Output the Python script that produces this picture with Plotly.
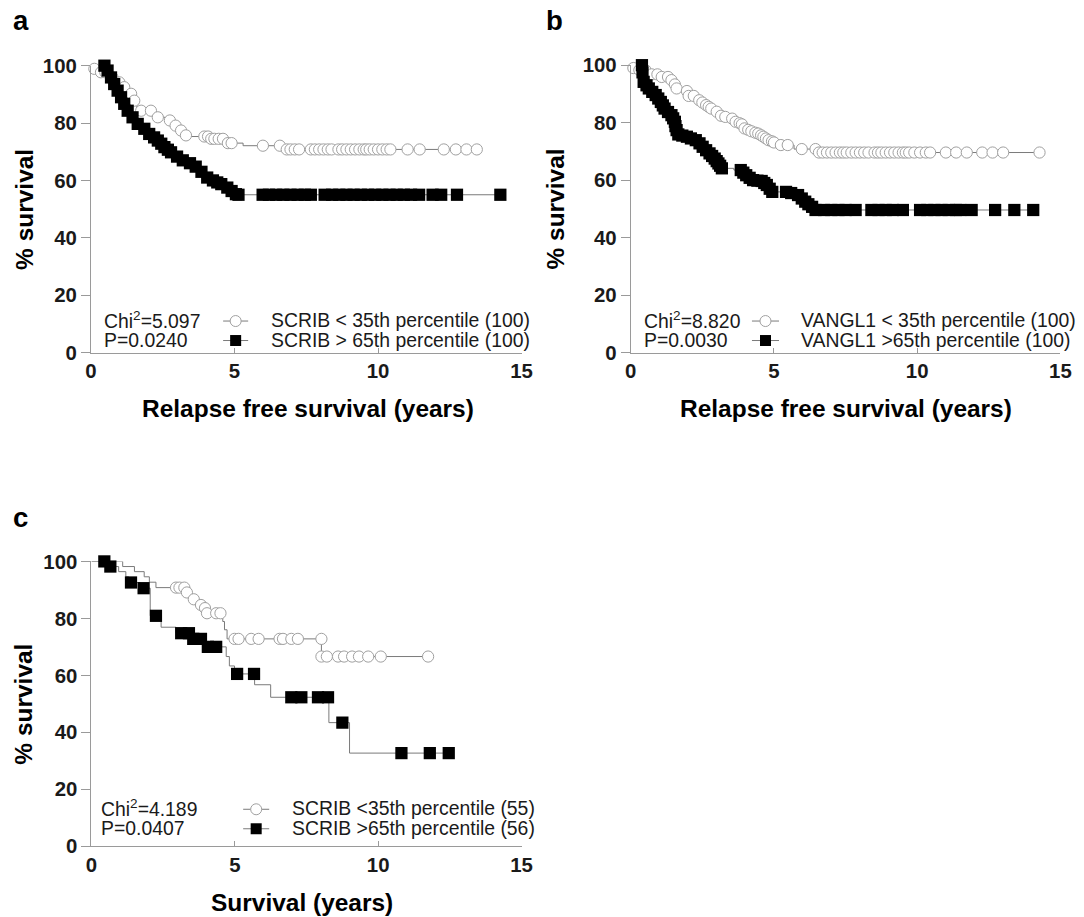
import plotly.graph_objects as go

# figure size (the page adds its own margin); an empirical page->picture calibration is applied below
FW, FH = 1100, 935
SX, TX = 0.983, 13.2   # picture_x = SX * figure_x + TX
SY, TY = 0.977, 18.8   # picture_y = SY * figure_y + TY
FS = 1 / 0.98          # size compensation for the slight downscale

# ---------------- data (years, % survival) ----------------
# Panel a: SCRIB, relapse free survival
A_LO_KM_T = [0, 0.08, 0.3, 0.65, 0.9, 1.1, 1.3, 1.45, 1.6, 2.2, 2.6, 2.9, 3.05, 3.25, 3.5, 4.15, 4.7, 5.3, 6.7, 13.44]
A_LO_KM_S = [100, 98.9, 97.7, 95.9, 94.2, 92.5, 90.2, 87.8, 84.3, 82.0, 80.9, 79.1, 77.4, 75.7, 75.3, 74.5, 73.0, 72.1, 70.8, 70.8]
A_LO_CENS_T = [0.12, 0.35, 0.5, 0.75, 0.99, 1.16, 1.40, 1.51, 1.75, 2.09, 2.33, 2.75, 2.95, 3.14, 3.31, 3.95, 4.08,
               4.19, 4.3, 4.45, 4.6, 4.77, 4.9, 5.99, 6.58, 6.82, 6.95, 7.1, 7.25, 7.66, 7.8, 7.95, 8.1, 8.25, 8.38,
               8.62, 8.75, 8.9, 9.05, 9.2, 9.35, 9.5, 9.59, 9.71, 9.85, 10.0, 10.15, 10.3, 10.43, 11.03, 11.45,
               12.29, 12.71, 13.08, 13.44]
A_LO_CENS_S = [98.9, 97.7, 97.7, 95.9, 94.2, 92.5, 90.2, 87.8, 84.3, 84.3, 82.0, 80.9, 79.1, 77.4, 75.7, 75.3, 75.3,
               74.5, 74.5, 74.5, 74.5, 73.0, 73.0, 72.1, 72.1, 70.8, 70.8, 70.8, 70.8, 70.8, 70.8, 70.8, 70.8, 70.8,
               70.8, 70.8, 70.8, 70.8, 70.8, 70.8, 70.8, 70.8, 70.8, 70.8, 70.8, 70.8, 70.8, 70.8, 70.8, 70.8, 70.8,
               70.8, 70.8, 70.8, 70.8]

A_HI_KM_T = [0, 0.52, 0.64, 0.75, 0.87, 0.99, 1.1, 1.22, 1.36, 1.54, 1.75, 1.95, 2.1, 2.27, 2.4, 2.5, 2.62, 2.74,
             2.9, 3.1, 3.32, 3.55, 3.75, 3.95, 4.15, 4.32, 4.47, 4.65, 4.82, 4.98, 5.1, 14.26]
A_HI_KM_S = [100, 98.3, 95.9, 93.6, 91.3, 89.0, 86.7, 84.3, 82.0, 79.7, 78.0, 76.2, 75.0, 73.9, 72.8, 71.6, 70.7,
             69.8, 68.3, 67.0, 66.0, 64.8, 63.0, 61.0, 60.0, 59.3, 58.7, 57.5, 56.3, 55.2, 55.0, 55.0]
A_HI_CENS_T = [0.47, 0.58, 0.70, 0.81, 0.93, 1.05, 1.16, 1.28, 1.45, 1.63, 1.86, 2.03, 2.2, 2.33, 2.45, 2.56, 2.68,
               2.79, 3.0, 3.2, 3.45, 3.65, 3.85, 4.05, 4.25, 4.4, 4.54, 4.75, 4.9, 5.05, 5.14, 5.98, 6.2, 6.45, 6.7,
               6.95, 7.2, 7.45, 7.66, 8.14, 8.4, 8.65, 8.9, 9.15, 9.4, 9.65, 9.9, 10.15, 10.4, 10.65, 10.9, 11.15,
               11.43, 11.9, 12.2, 12.75, 14.26]
A_HI_CENS_S = [100, 98.3, 95.9, 93.6, 91.3, 89.0, 86.7, 84.3, 82.0, 79.7, 78.0, 76.2, 75.0, 73.9, 72.8, 71.6, 70.7,
               69.8, 68.3, 67.0, 66.0, 64.8, 63.0, 61.0, 60.0, 59.3, 58.7, 57.5, 56.3, 55.2, 55.0, 55.0, 55.0, 55.0,
               55.0, 55.0, 55.0, 55.0, 55.0, 55.0, 55.0, 55.0, 55.0, 55.0, 55.0, 55.0, 55.0, 55.0, 55.0, 55.0, 55.0,
               55.0, 55.0, 55.0, 55.0, 55.0, 55.0]

# Panel b: VANGL1, relapse free survival
B_LO_KM_T = [0, 0.05, 0.2, 0.6, 1.0, 1.38, 1.5, 1.57, 1.8, 2.0, 2.3, 2.45, 2.58, 2.68, 2.77, 2.9, 3.08, 3.25, 3.45,
             3.6, 3.75, 3.85, 3.93, 4.05, 4.15, 4.3, 4.4, 4.5, 4.6, 4.68, 4.77, 4.88, 4.97, 5.1, 5.7, 6.52, 14.27]
B_LO_KM_S = [100, 99.0, 98.3, 96.8, 95.9, 94.8, 93.3, 91.9, 91.0, 89.3, 87.8, 87.0, 86.1, 85.5, 84.9, 83.8, 82.4,
             82.0, 81.4, 80.3, 79.8, 79.4, 78.0, 77.5, 77.0, 76.5, 76.2, 75.6, 75.1, 74.5, 73.9, 73.5, 73.1, 72.2,
             70.8, 69.6, 69.6]
B_LO_CENS_T = [0.09, 0.3, 0.51, 0.73, 0.93, 1.08, 1.30, 1.42, 1.54, 1.60, 1.96, 2.02, 2.2, 2.39, 2.5, 2.63, 2.72,
               2.81, 3.0, 3.15, 3.3, 3.54, 3.66, 3.8, 3.88, 3.97, 4.1, 4.21, 4.35, 4.45, 4.55, 4.63, 4.72, 4.81,
               4.93, 5.0, 5.24, 5.48, 5.97, 6.45, 6.57, 6.7, 6.85, 7.0, 7.15, 7.3, 7.42, 7.54, 7.7, 7.85, 8.0, 8.15,
               8.3, 8.51, 8.63, 8.75, 8.9, 9.05, 9.2, 9.35, 9.5, 9.6, 9.72, 9.9, 10.1, 10.3, 10.45, 11.0, 11.36,
               11.73, 12.27, 12.63, 13.0, 14.27]
B_LO_CENS_S = [99.0, 98.3, 98.3, 96.8, 96.8, 95.9, 95.9, 94.8, 93.3, 91.9, 91.0, 89.3, 89.3, 87.8, 87.0, 86.1, 85.5,
               84.9, 83.8, 82.4, 82.0, 81.4, 80.3, 79.8, 79.4, 78.0, 77.5, 77.0, 76.5, 76.2, 75.6, 75.1, 74.5, 73.9,
               73.5, 73.1, 72.2, 72.2, 70.8, 70.8, 69.6, 69.6, 69.6, 69.6, 69.6, 69.6, 69.6, 69.6, 69.6, 69.6, 69.6,
               69.6, 69.6, 69.6, 69.6, 69.6, 69.6, 69.6, 69.6, 69.6, 69.6, 69.6, 69.6, 69.6, 69.6, 69.6, 69.6, 69.6,
               69.6, 69.6, 69.6, 69.6, 69.6, 69.6]

B_HI_KM_T = [0, 0.40, 0.43, 0.5, 0.6, 0.7, 0.82, 0.92, 1.0, 1.09, 1.15, 1.25, 1.38, 1.46, 1.52, 1.55, 1.58, 1.63,
             1.75, 1.9, 2.05, 2.2, 2.35, 2.47, 2.58, 2.7, 2.8, 2.9, 2.97, 3.03, 3.1, 3.15, 3.6, 3.9, 4.0, 4.1, 4.22,
             4.4, 4.55, 4.62, 4.7, 4.8, 4.9, 5.55, 5.75, 5.92, 6.05, 6.15, 6.28, 6.4, 14.05]
B_HI_KM_S = [100, 97.5, 94.2, 93.0, 91.9, 90.7, 89.6, 88.4, 87.2, 86.0, 84.9, 83.7, 82.6, 81.5, 80.3, 78.8, 77.4,
             75.9, 75.5, 75.1, 74.5, 73.9, 72.8, 71.6, 70.4, 69.3, 68.4, 67.5, 66.6, 65.8, 65.0, 64.1, 63.5, 62.6,
             61.7, 60.8, 60.0, 59.8, 59.7, 59.0, 58.3, 57.0, 55.9, 55.5, 54.8, 53.6, 52.5, 51.6, 50.7, 49.6, 49.6]
B_HI_CENS_T = [0.39, 0.41, 0.45, 0.55, 0.63, 0.75, 0.87, 0.96, 1.05, 1.12, 1.18, 1.3, 1.42, 1.48, 1.54, 1.56, 1.6,
               1.66, 1.8, 1.96, 2.1, 2.27, 2.4, 2.51, 2.63, 2.75, 2.84, 2.93, 3.0, 3.06, 3.12, 3.18, 3.84, 3.93, 4.03,
               4.15, 4.27, 4.42, 4.57, 4.66, 4.75, 4.85, 4.94, 5.42, 5.6, 5.84, 5.97, 6.09, 6.2, 6.33, 6.45, 6.75,
               7.0, 7.25, 7.5, 7.85, 8.4, 8.65, 8.9, 9.15, 9.5, 10.1, 10.35, 10.6, 10.85, 11.1, 11.35, 11.5, 11.9,
               12.72, 13.39, 14.05]
B_HI_CENS_S = [100, 97.5, 94.2, 93.0, 91.9, 90.7, 89.6, 88.4, 87.2, 86.0, 84.9, 83.7, 82.6, 81.5, 80.3, 78.8, 77.4,
               75.9, 75.5, 75.1, 74.5, 73.9, 72.8, 71.6, 70.4, 69.3, 68.4, 67.5, 66.6, 65.8, 65.0, 64.1, 63.5, 62.6,
               61.7, 60.8, 60.0, 59.8, 59.7, 59.0, 58.3, 57.0, 55.9, 55.9, 55.5, 54.8, 53.6, 52.5, 51.6, 50.7, 49.6,
               49.6, 49.6, 49.6, 49.6, 49.6, 49.6, 49.6, 49.6, 49.6, 49.6, 49.6, 49.6, 49.6, 49.6, 49.6, 49.6, 49.6,
               49.6, 49.6, 49.6, 49.6]

# Panel c: SCRIB, overall survival
C_LO_KM_T = [0, 1.09, 1.5, 1.84, 2.02, 2.25, 3.28, 3.5, 3.75, 3.9, 4.0, 4.58, 4.64, 4.73, 8.02, 11.74]
C_LO_KM_S = [100, 98.2, 96.4, 94.6, 92.7, 90.8, 89.1, 86.7, 84.7, 83.6, 81.8, 78.9, 76.0, 72.8, 66.6, 66.6]
C_LO_CENS_T = [2.95, 3.07, 3.24, 3.33, 3.57, 3.82, 3.96, 4.03, 4.35, 4.5, 4.99, 5.13, 5.57, 5.83, 6.56, 6.68, 6.97,
               7.2, 8.02, 8.02, 8.21, 8.6, 8.81, 9.09, 9.33, 9.65, 10.09, 11.74]
C_LO_CENS_S = [90.8, 90.8, 90.8, 89.1, 86.7, 84.7, 83.6, 81.8, 81.8, 81.8, 72.8, 72.8, 72.8, 72.8, 72.8, 72.8, 72.8,
               72.8, 72.8, 66.6, 66.6, 66.6, 66.6, 66.6, 66.6, 66.6, 66.6, 66.6]

C_HI_KM_T = [0, 0.55, 0.95, 1.2, 1.3, 1.7, 2.05, 2.43, 2.95, 3.45, 3.95, 4.7, 4.81, 4.99, 5.69, 6.25, 8.28, 9.0, 12.46]
C_HI_KM_S = [100, 98.2, 96.4, 94.6, 92.6, 90.6, 80.9, 76.9, 74.8, 72.8, 70.0, 66.6, 63.3, 60.5, 56.7, 52.3, 43.4,
             32.7, 32.7]
C_HI_CENS_T = [0.45, 0.66, 1.38, 1.82, 2.25, 3.13, 3.4, 3.55, 3.82, 4.06, 4.35, 5.08, 5.67, 6.97, 7.32, 7.9, 8.25,
               8.75, 10.81, 11.8, 12.46]
C_HI_CENS_S = [100, 98.2, 92.6, 90.6, 80.9, 74.8, 74.8, 72.8, 72.8, 70.0, 70.0, 60.5, 60.5, 52.3, 52.3, 52.3, 52.3,
               43.4, 32.7, 32.7, 32.7]

X_TICKS = [0, 5, 10, 15]
Y_TICKS = [0, 20, 40, 60, 80, 100]

PANEL_LETTERS = ["a", "b", "c"]
X_TITLES = ["Relapse free survival (years)", "Relapse free survival (years)", "Survival (years)"]
Y_TITLE = "% survival"
STATS = [("Chi<sup>2</sup>=5.097", "P=0.0240"),
         ("Chi<sup>2</sup>=8.820", "P=0.0030"),
         ("Chi<sup>2</sup>=4.189", "P=0.0407")]
LEGENDS = [("SCRIB < 35th percentile (100)", "SCRIB > 65th percentile (100)"),
           ("VANGL1 < 35th percentile (100)", "VANGL1 >65th percentile (100)"),
           ("SCRIB <35th percentile (55)", "SCRIB >65th percentile (56)")]

# ---------------- styling ----------------
FONT = "Liberation Sans, Arial, Helvetica, sans-serif"
TXT = "#1a1a1a"
LINE_C = "#7a7a7a"
CIRC_C = "#a0a0a0"
AX_C = "#9a9a9a"


def px(x):
    """target picture x -> paper fraction"""
    return ((x - TX) / SX) / FW


def py(y):
    """target picture y -> paper fraction"""
    return 1 - ((y - TY) / SY) / FH


# panel geometry in picture pixels: (x0, x1, ytop(100%), ybottom(0%))
GEOM = [(90, 520, 65.5, 352.5), (629, 1058, 65.0, 352.5), (90.5, 520, 561.5, 846.5)]

series = [
    (A_LO_KM_T, A_LO_KM_S, A_LO_CENS_T, A_LO_CENS_S, A_HI_KM_T, A_HI_KM_S, A_HI_CENS_T, A_HI_CENS_S),
    (B_LO_KM_T, B_LO_KM_S, B_LO_CENS_T, B_LO_CENS_S, B_HI_KM_T, B_HI_KM_S, B_HI_CENS_T, B_HI_CENS_S),
    (C_LO_KM_T, C_LO_KM_S, C_LO_CENS_T, C_LO_CENS_S, C_HI_KM_T, C_HI_KM_S, C_HI_CENS_T, C_HI_CENS_S),
]

fig = go.Figure()
for i, (lkt, lks, lct, lcs, hkt, hks, hct, hcs) in enumerate(series):
    xa = "x" if i == 0 else f"x{i+1}"
    ya = "y" if i == 0 else f"y{i+1}"
    for kt, ks in ((lkt, lks), (hkt, hks)):
        fig.add_trace(go.Scatter(x=kt, y=ks, mode="lines", line=dict(shape="hv", color=LINE_C, width=1),
                                 xaxis=xa, yaxis=ya, showlegend=False, hoverinfo="skip", cliponaxis=False))
    fig.add_trace(go.Scatter(x=lct, y=lcs, mode="markers",
                             marker=dict(symbol="circle", size=11 * FS, color="white",
                                         line=dict(color=CIRC_C, width=1)),
                             xaxis=xa, yaxis=ya, showlegend=False, cliponaxis=False))
    fig.add_trace(go.Scatter(x=hct, y=hcs, mode="markers",
                             marker=dict(symbol="square", size=12 * FS, color="black",
                                         line=dict(color="black", width=0)),
                             xaxis=xa, yaxis=ya, showlegend=False, cliponaxis=False))

layout = dict(width=FW, height=FH, margin=dict(l=0, r=0, t=0, b=0), paper_bgcolor="white",
              plot_bgcolor="white", showlegend=False, font=dict(family=FONT, color=TXT))
annotations = []
shapes = []

# legend geometry per panel: stats-left, sample-line x0, x1, text-left, row1 y, row2 y
LEG = [(101, 222, 247, 268, 320, 339.5), (640, 750, 777, 797, 320, 339.5), (98, 242, 268, 289, 808.5, 828)]
LETTER_POS = [(20, 20.5), (553, 20.5), (20, 518)]
XTITLE_POS = [(307, 409), (844, 409), (301, 903)]
YTITLE_X = [23, 554, 23]

tick_font = dict(family=FONT, size=20 * FS, color=TXT, weight="bold")
for i, (x0, x1, yt, yb) in enumerate(GEOM):
    sfx = "" if i == 0 else str(i + 1)
    layout["xaxis" + sfx] = dict(domain=[px(x0), px(x1)], range=[0, 15], tickvals=X_TICKS,
                                 anchor="y" + sfx, showline=True, linecolor=AX_C, linewidth=1,
                                 ticks="inside", ticklen=5, tickcolor=AX_C, showgrid=False,
                                 zeroline=False, tickfont=tick_font)
    layout["yaxis" + sfx] = dict(domain=[py(yb), py(yt)], range=[0, 100], tickvals=Y_TICKS,
                                 anchor="x" + sfx, showline=True, linecolor=AX_C, linewidth=1,
                                 ticks="outside", ticklen=9, tickcolor=AX_C, showgrid=False,
                                 zeroline=False, tickfont=tick_font)
    # panel letter
    lx, ly = LETTER_POS[i]
    annotations.append(dict(text=PANEL_LETTERS[i], x=px(lx), y=py(ly), xref="paper", yref="paper",
                            xanchor="center", yanchor="middle", showarrow=False, borderpad=0,
                            font=dict(family=FONT, size=27 * FS, color="black", weight="bold")))
    # axis titles
    tx, ty = XTITLE_POS[i]
    annotations.append(dict(text=X_TITLES[i], x=px(tx), y=py(ty), xref="paper", yref="paper",
                            xanchor="center", yanchor="middle", showarrow=False,
                            font=dict(family=FONT, size=24 * FS, color="black", weight="bold")))
    annotations.append(dict(text=Y_TITLE, x=px(YTITLE_X[i]), y=py((yt + yb) / 2), xref="paper", yref="paper",
                            xanchor="center", yanchor="middle", showarrow=False, textangle=-90,
                            font=dict(family=FONT, size=24 * FS, color="black", weight="bold")))
    # stats + legend
    sl, lx0, lx1, tl, r1, r2 = LEG[i]
    for row, yy in enumerate((r1, r2)):
        annotations.append(dict(text=STATS[i][row], x=px(sl), y=py(yy), xref="paper", yref="paper",
                                xanchor="left", yanchor="middle", showarrow=False,
                                font=dict(family=FONT, size=19 * FS, color=TXT)))
        annotations.append(dict(text=LEGENDS[i][row], x=px(tl), y=py(yy), xref="paper", yref="paper",
                                xanchor="left", yanchor="middle", showarrow=False,
                                font=dict(family=FONT, size=19 * FS, color=TXT)))
        shapes.append(dict(type="line", xref="paper", yref="paper", x0=px(lx0), x1=px(lx1),
                           y0=py(yy + 1), y1=py(yy + 1), line=dict(color=LINE_C, width=1)))
        mc = (lx0 + lx1) / 2
        if row == 0:
            shapes.append(dict(type="circle", xref="paper", yref="paper", x0=px(mc - 5.5), x1=px(mc + 5.5),
                               y0=py(yy + 1 + 5.5), y1=py(yy + 1 - 5.5), fillcolor="white",
                               line=dict(color=CIRC_C, width=1), layer="above"))
        else:
            shapes.append(dict(type="rect", xref="paper", yref="paper", x0=px(mc - 5.5), x1=px(mc + 5.5),
                               y0=py(yy + 1 + 5.5), y1=py(yy + 1 - 5.5), fillcolor="black",
                               line=dict(color="black", width=0), layer="above"))

layout["annotations"] = annotations
layout["shapes"] = shapes
fig.update_layout(**layout)
fig.write_html("out.html")
